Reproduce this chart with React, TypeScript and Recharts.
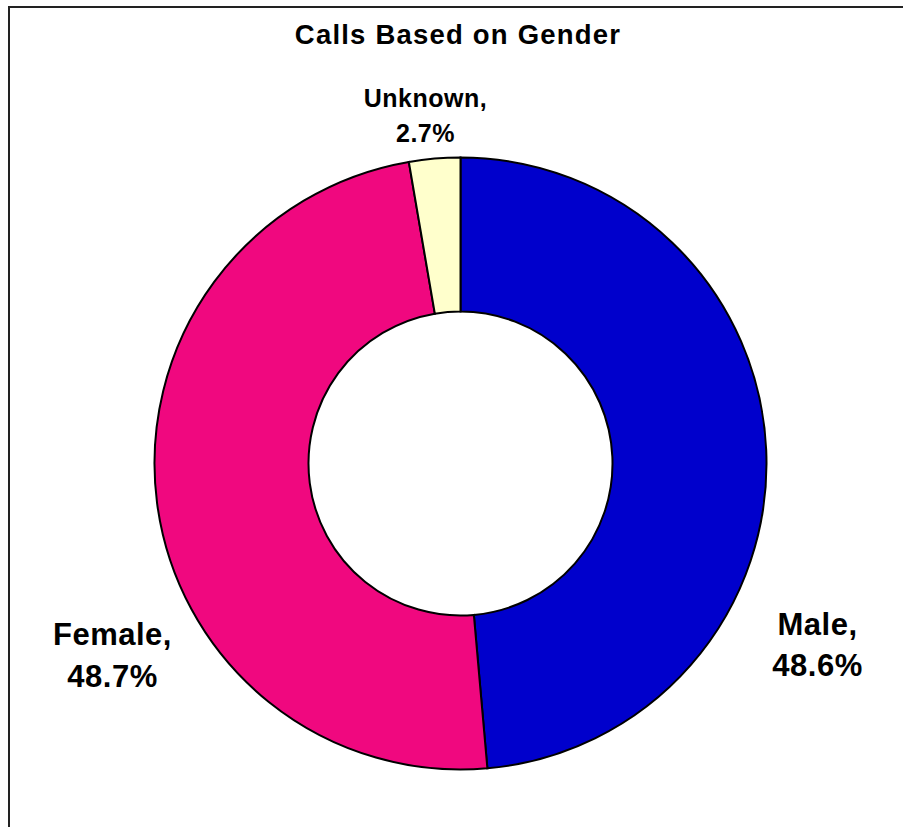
import React from 'react';
import { PieChart, Pie, Cell } from 'recharts';

const categories = ['Male', 'Female', 'Unknown'];
const shares = [48.6, 48.7, 2.7];
const colors = ['#0000CC', '#F0087F', '#FFFFCC'];

const TITLE = 'Calls Based on Gender';

// label placement relative to pie centre (dx, dy of first line baseline), font size
const LABEL_LAYOUT = [
  { dx: 357, dy: 171, gap: 41, size: 31, spacing: 0.5 },
  { dx: -348, dy: 181, gap: 42, size: 31, spacing: 0.5 },
  { dx: -35, dy: -357, gap: 35, size: 25, spacing: 0.5 },
];

const chartData = categories.map((name, i) => ({ name, value: shares[i] }));

const FONT = '"Liberation Sans", Arial, sans-serif';
const NO_MARGIN = { top: 0, right: 0, bottom: 0, left: 0 };

const renderLabel = (props: any) => {
  const { cx, cy, index, name, value } = props;
  const l = LABEL_LAYOUT[index];
  const x = cx + l.dx;
  const y = cy + l.dy;
  return (
    <text
      x={x}
      y={y}
      textAnchor="middle"
      fill="#000"
      fontFamily={FONT}
      fontWeight="bold"
      fontSize={l.size}
      letterSpacing={l.spacing}
    >
      <tspan x={x} y={y}>{`${name},`}</tspan>
      <tspan x={x} y={y + l.gap}>{`${value.toFixed(1)}%`}</tspan>
    </text>
  );
};

const App: React.FC = () => {
  return (
    <div style={{ position: 'absolute', left: 0, top: 0, width: 903, height: 827, overflow: 'hidden', background: '#fff' }}>
      <div
        style={{
          position: 'absolute',
          left: 8,
          top: 6,
          width: 1000,
          height: 1000,
          border: '2px solid #222',
        }}
      />
      <svg width={903} height={60} style={{ position: 'absolute', left: 0, top: 0 }}>
        <text
          x={458}
          y={44}
          textAnchor="middle"
          fontFamily={FONT}
          fontWeight="bold"
          fontSize={27.5}
          letterSpacing={1.2}
          fill="#000"
        >
          {TITLE}
        </text>
      </svg>
      <div style={{ position: 'absolute', left: 0, top: 0 }}>
        <PieChart width={903} height={827} margin={NO_MARGIN}>
          <Pie
            data={chartData}
            dataKey="value"
            nameKey="name"
            cx={460.5}
            cy={463.5}
            innerRadius={152}
            outerRadius={306}
            startAngle={90}
            endAngle={-270}
            stroke="#000"
            strokeWidth={2}
            label={renderLabel}
            labelLine={false}
            isAnimationActive={false}
          >
            {chartData.map((d, i) => (
              <Cell key={d.name} fill={colors[i]} />
            ))}
          </Pie>
        </PieChart>
      </div>
    </div>
  );
};

export default App;
